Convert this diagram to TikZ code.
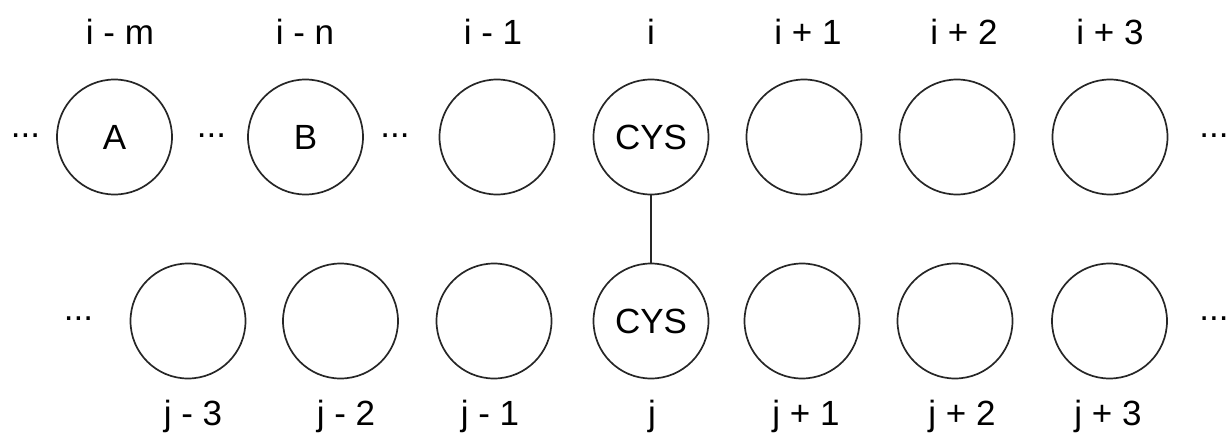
\documentclass[tikz,border=0pt]{standalone}
\usepackage{fontspec}
\setmainfont{Liberation Sans}
\begin{document}
\begin{tikzpicture}[x=0.5pt,y=-0.5pt,
  res/.style={circle,draw=black!85,line width=0.85pt,minimum size=57.5pt,inner sep=0pt,font=\fontsize{17.5}{20}\selectfont},
  lab/.style={anchor=base,inner sep=0pt,font=\fontsize{17.5}{20}\selectfont},
  dts/.style={anchor=base,inner sep=0pt,font=\fontsize{17.5}{20}\selectfont}]
\useasboundingbox (0,0) rectangle (1226,434);
% top row
\node[res] (a) at (114.5,137) {A};
\node[res] (b) at (305.5,137) {B};
\node[res] (im1) at (497,137) {};
\node[res] (ci) at (651,137) {CYS};
\node[res] (ip1) at (804,137) {};
\node[res] (ip2) at (957,137) {};
\node[res] (ip3) at (1110,137) {};
% bottom row
\node[res] (jm3) at (188,321) {};
\node[res] (jm2) at (340.5,321) {};
\node[res] (jm1) at (494,321) {};
\node[res] (cj) at (651,321) {CYS};
\node[res] (jp1) at (802,321) {};
\node[res] (jp2) at (955,321) {};
\node[res] (jp3) at (1109.5,321) {};
% bond
\draw[line width=0.85pt,draw=black!85] (ci) -- (cj);
% top labels
\node[lab] (lim) at (120,44) {i - m};
\node[lab] (lin) at (305,44) {i - n};
\node[lab] (lim1) at (493,44) {i - 1};
\node[lab] (li) at (651,44) {i};
\node[lab] (lip1) at (808,44) {i + 1};
\node[lab] (lip2) at (964,44) {i + 2};
\node[lab] (lip3) at (1110,44) {i + 3};
% bottom labels
\node[lab] (ljm3) at (193,425) {j - 3};
\node[lab] (ljm2) at (346,425) {j - 2};
\node[lab] (ljm1) at (490,425) {j - 1};
\node[lab] (lj) at (652,425) {j};
\node[lab] (ljp1) at (806,425) {j + 1};
\node[lab] (ljp2) at (962,425) {j + 2};
\node[lab] (ljp3) at (1108,425) {j + 3};
% dots
\node[dts] (d1) at (25.5,137) {...};
\node[dts] (d2) at (211.5,137) {...};
\node[dts] (d3) at (395,137) {...};
\node[dts] (d4) at (1214,137) {...};
\node[dts] (d5) at (78.5,320) {...};
\node[dts] (d6) at (1214,320) {...};
\end{tikzpicture}
\end{document}
